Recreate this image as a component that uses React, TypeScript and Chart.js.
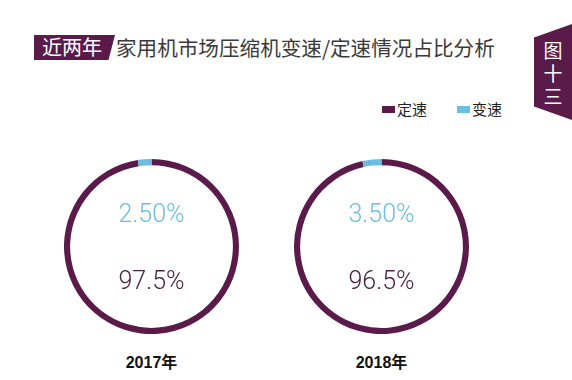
import React, { useEffect, useRef } from "react";
import { Chart, registerables } from "chart.js";

Chart.register(...registerables);

const years = ["2017年", "2018年"];
const seriesNames = ["定速", "变速"];
const fixedSpeed = [97.5, 96.5];
const variableSpeed = [2.5, 3.5];

const PURPLE = "#5a1b4b";
const BLUE = "#6cbde3";
const CJK = '"Noto Sans CJK SC", "Noto Sans", sans-serif';

const centerTextPlugin = {
  id: "centerText",
  afterDraw(chart: any) {
    const { ctx } = chart;
    const meta = chart.getDatasetMeta(0);
    const arc = meta.data[0];
    if (!arc) return;
    const cx = arc.x;
    const cy = arc.y;
    const ds = chart.data.datasets[0].data as number[];
    ctx.save();
    ctx.textAlign = "center";
    ctx.textBaseline = "middle";
    ctx.font = '300 25px Roboto, "Liberation Sans", sans-serif';
    ctx.fillStyle = BLUE;
    ctx.fillText(ds[1].toFixed(2) + "%", cx, cy - 31);
    ctx.fillStyle = "#4a2342";
    ctx.fillText(ds[0].toFixed(1) + "%", cx, cy + 36);
    ctx.restore();
  },
};

function Donut({ idx, left }: { idx: number; left: number }) {
  const ref = useRef<HTMLCanvasElement>(null);
  useEffect(() => {
    if (!ref.current) return;
    const chart = new Chart(ref.current, {
      type: "doughnut",
      data: {
        labels: seriesNames,
        datasets: [
          {
            data: [fixedSpeed[idx], variableSpeed[idx]],
            backgroundColor: [PURPLE, BLUE],
            borderWidth: 0,
          },
        ],
      },
      options: {
        responsive: false,
        animation: false,
        cutout: "93%",
        layout: { padding: 0 },
        plugins: { legend: { display: false }, tooltip: { enabled: false } },
      },
      plugins: [centerTextPlugin],
    });
    return () => chart.destroy();
  }, [idx]);
  return (
    <>
      <canvas
        ref={ref}
        width={175}
        height={175}
        style={{ position: "absolute", left, top: 159, width: 175, height: 175 }}
      />
      <div
        style={{
          position: "absolute",
          left: left - 40,
          width: 255,
          top: 352,
          textAlign: "center",
          fontFamily: '"Liberation Sans", ' + CJK,
          fontWeight: 700,
          fontSize: 16,
          color: "#111",
          lineHeight: "22px",
        }}
      >
        {years[idx]}
      </div>
    </>
  );
}

export default function App() {
  return (
    <div
      style={{
        position: "fixed",
        left: 0,
        top: 0,
        width: 572,
        height: 380,
        background: "#fff",
        overflow: "hidden",
        fontFamily: CJK,
      }}
    >
      {/* title box */}
      <div
        style={{
          position: "absolute",
          left: 34,
          top: 35,
          width: 81,
          height: 25,
          background: PURPLE,
          clipPath: "polygon(0 0, 100% 0, 92% 100%, 0 100%)",
        }}
      />
      <div
        style={{
          position: "absolute",
          left: 42,
          top: 33,
          fontSize: 20,
          lineHeight: "28px",
          color: "#fff",
          letterSpacing: 0,
        }}
      >
        近两年
      </div>
      <div
        style={{
          position: "absolute",
          left: 116,
          top: 33,
          fontSize: 20.6,
          lineHeight: "28px",
          color: "#3a3a3a",
          whiteSpace: "nowrap",
        }}
      >
        家用机市场压缩机变速/定速情况占比分析
      </div>

      {/* right tab */}
      <div
        style={{
          position: "absolute",
          left: 534,
          top: 24,
          width: 38,
          height: 96,
          background: PURPLE,
          clipPath: "polygon(0 14%, 100% 0, 100% 100%, 0 86%)",
        }}
      />
      {["图", "十", "三"].map((c, i) => (
        <div
          key={c}
          style={{
            position: "absolute",
            left: 534,
            width: 38,
            top: 38 + i * 23,
            textAlign: "center",
            fontSize: 19,
            lineHeight: "24px",
            color: "#fff",
          }}
        >
          {c}
        </div>
      ))}

      {/* legend */}
      {seriesNames.map((n, i) => (
        <div
          key={n}
          style={{
            position: "absolute",
            left: 382 + i * 75,
            top: 99,
            display: "flex",
            alignItems: "center",
            fontSize: 15,
            lineHeight: "20px",
            color: "#222",
            whiteSpace: "nowrap",
          }}
        >
          <span
            style={{
              display: "inline-block",
              width: 13,
              height: 7,
              background: i === 0 ? PURPLE : BLUE,
              marginRight: 2,
            }}
          />
          {n}
        </div>
      ))}

      <Donut idx={0} left={64} />
      <Donut idx={1} left={294} />
    </div>
  );
}
